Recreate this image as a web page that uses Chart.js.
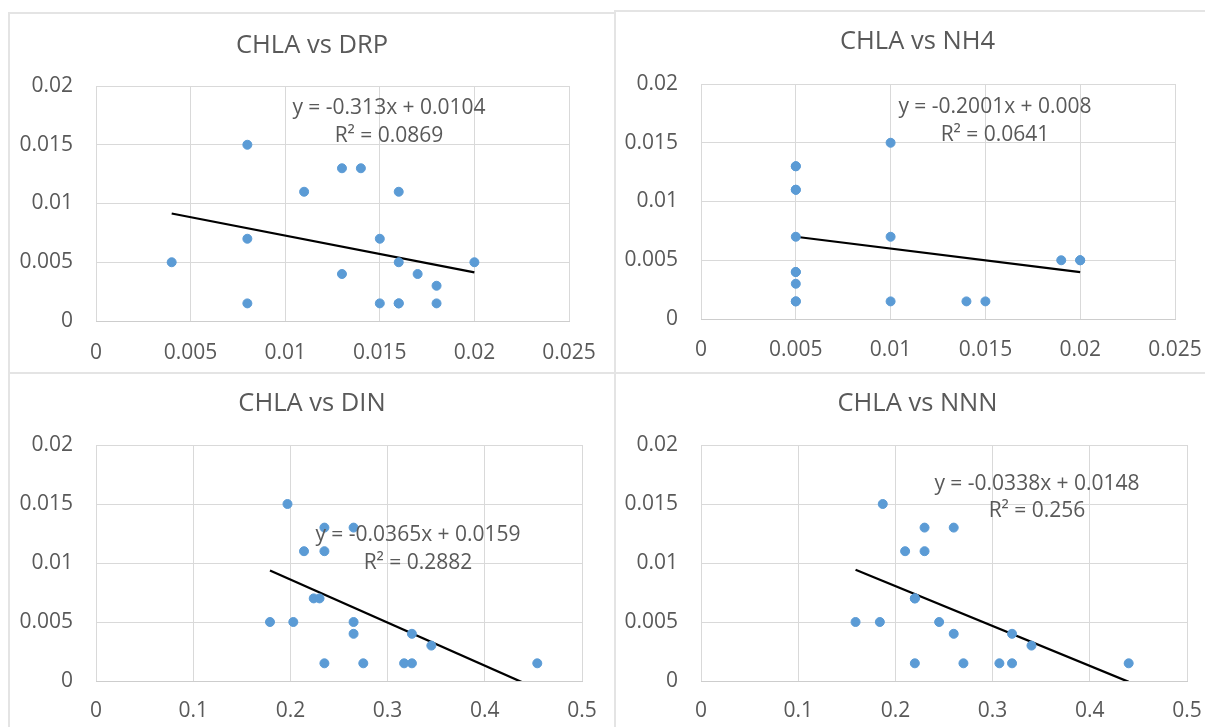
<!DOCTYPE html>
<html>
<head>
<meta charset="utf-8">
<script src="https://cdn.jsdelivr.net/npm/chart.js@4.4.1/dist/chart.umd.min.js"></script>
<style>
  html, body { margin: 0; padding: 0; background: #fff; width: 1205px; height: 727px; overflow: hidden; }
  .frame { position: absolute; box-sizing: border-box; border: 2px solid #e4e4e4; }
  canvas { position: absolute; }
</style>
</head>
<body>

<div class="frame" style="left:8px;top:12px;width:608px;height:362px"></div>
<div class="frame" style="left:614px;top:10px;width:700px;height:364px"></div>
<div class="frame" style="left:8px;top:372px;width:608px;height:400px"></div>
<div class="frame" style="left:614px;top:372px;width:700px;height:400px"></div>

<canvas id="c1" width="606" height="360" style="left:9px;top:13px"></canvas>
<canvas id="c2" width="605" height="362" style="left:615px;top:11px"></canvas>
<canvas id="c3" width="606" height="354" style="left:9px;top:373px"></canvas>
<canvas id="c4" width="605" height="354" style="left:615px;top:373px"></canvas>

<script>
/* data, same sample order in every array */
const chla = [0.015, 0.013, 0.013, 0.011, 0.011, 0.007, 0.007, 0.005, 0.005, 0.005,
              0.004, 0.004, 0.003, 0.0015, 0.0015, 0.0015, 0.0015, 0.0015];

const drp = [0.008, 0.013, 0.014, 0.011, 0.016, 0.008, 0.015, 0.004, 0.016, 0.02,
             0.013, 0.017, 0.018, 0.008, 0.015, 0.016, 0.016, 0.018];
const nh4 = [0.01, 0.005, 0.005, 0.005, 0.005, 0.005, 0.01, 0.019, 0.02, 0.02,
             0.005, 0.005, 0.005, 0.005, 0.01, 0.014, 0.015, 0.005];
const din = [0.197, 0.235, 0.265, 0.214, 0.235, 0.224, 0.23, 0.179, 0.203, 0.265,
             0.265, 0.325, 0.345, 0.235, 0.275, 0.317, 0.325, 0.454];
const nnn = [0.187, 0.23, 0.26, 0.21, 0.23, 0.22, 0.22, 0.159, 0.184, 0.245,
             0.26, 0.32, 0.34, 0.22, 0.27, 0.307, 0.32, 0.44];

// trendline equations as printed on the chart
const slopes     = [-0.313, -0.2001, -0.0365, -0.0338];
const intercepts = [0.0104, 0.008, 0.0159, 0.0148];
const eqText = ['y = -0.313x + 0.0104', 'y = -0.2001x + 0.008', 'y = -0.0365x + 0.0159', 'y = -0.0338x + 0.0148'];
const r2Text = ['R² = 0.0869', 'R² = 0.0641', 'R² = 0.2882', 'R² = 0.256'];

const yTicks  = ['0', '0.005', '0.01', '0.015', '0.02'];
const xTicksSmall = ['0', '0.005', '0.01', '0.015', '0.02', '0.025'];
const xTicksBig   = ['0', '0.1', '0.2', '0.3', '0.4', '0.5'];

const FONT = "'Open Sans', sans-serif";
const TXT = '#595959';

// draws the two-line trendline label
const trendLabel = {
  id: 'trendLabel',
  afterDatasetsDraw(chart, args, o) {
    const a = chart.chartArea, ctx = chart.ctx;
    ctx.save();
    ctx.fillStyle = TXT;
    ctx.font = '21px ' + FONT;
    ctx.textAlign = 'center';
    ctx.textBaseline = 'middle';
    o.lines.forEach((t, i) => ctx.fillText(t, a.left + o.dx, a.top + o.dy + i * 27.5));
    ctx.restore();
  }
};

function panel(id, k, title, xs, xMax, xLabels, lay) {
  const lo = Math.min(...xs), hi = Math.max(...xs);
  new Chart(document.getElementById(id), {
    type: 'scatter',
    data: {
      datasets: [
        {
          data: xs.map((v, i) => ({x: v, y: chla[i]})),
          backgroundColor: '#5b9bd5',
          borderColor: '#5b9bd5',
          borderWidth: 1,
          pointRadius: 4.5
        },
        {
          data: [{x: lo, y: slopes[k] * lo + intercepts[k]}, {x: hi, y: slopes[k] * hi + intercepts[k]}],
          showLine: true,
          borderColor: '#000',
          borderWidth: 2.25,
          pointRadius: 0
        }
      ]
    },
    plugins: [trendLabel],
    options: {
      responsive: false,
      animation: false,
      layout: {padding: 0},
      plugins: {
        legend: {display: false},
        tooltip: {enabled: false},
        title: {
          display: true, text: title, color: TXT,
          font: {family: FONT, size: 25.5, weight: 'normal'},
          padding: {top: lay.tTop, bottom: lay.tBot}
        },
        trendLabel: {lines: [eqText[k], r2Text[k]], dx: lay.lx, dy: lay.ly}
      },
      scales: {
        x: {
          type: 'linear', min: 0, max: xMax,
          ticks: {
            stepSize: xMax / 5, color: TXT, font: {family: FONT, size: 21},
            padding: lay.xPad, maxRotation: 0, autoSkip: false,
            callback: (v, i) => xLabels[i]
          },
          grid: {color: '#d9d9d9', drawTicks: false},
          border: {display: true, color: '#cdcdcd'},
          afterFit: s => { s.height = lay.xh; s.paddingLeft = 0; s.paddingRight = lay.rp; }
        },
        y: {
          min: 0, max: 0.02,
          ticks: {
            stepSize: 0.005, color: TXT, font: {family: FONT, size: 21},
            padding: 23, callback: (v, i) => yTicks[i]
          },
          grid: {color: '#d9d9d9', drawTicks: false},
          border: {display: false},
          afterFit: s => { s.width = lay.yw; }
        }
      }
    }
  });
}

panel('c1', 0, 'CHLA vs DRP', drp, 0.025, xTicksSmall,
      {yw: 87, rp: 46, xh: 52, tTop: 17.2, tBot: 25.2, xPad: 19, lx: 293, ly: 22.5});
panel('c2', 1, 'CHLA vs NH4', nh4, 0.025, xTicksSmall,
      {yw: 86, rp: 45, xh: 54, tTop: 15.7, tBot: 26.7, xPad: 18.5, lx: 294, ly: 23.5});
panel('c3', 2, 'CHLA vs DIN', din, 0.5, xTicksBig,
      {yw: 87, rp: 33, xh: 46, tTop: 15, tBot: 26.4, xPad: 17, lx: 322, ly: 90.5});
panel('c4', 3, 'CHLA vs NNN', nnn, 0.5, xTicksBig,
      {yw: 86, rp: 33, xh: 46, tTop: 15, tBot: 26.4, xPad: 17, lx: 336, ly: 39});
</script>
</body>
</html>
